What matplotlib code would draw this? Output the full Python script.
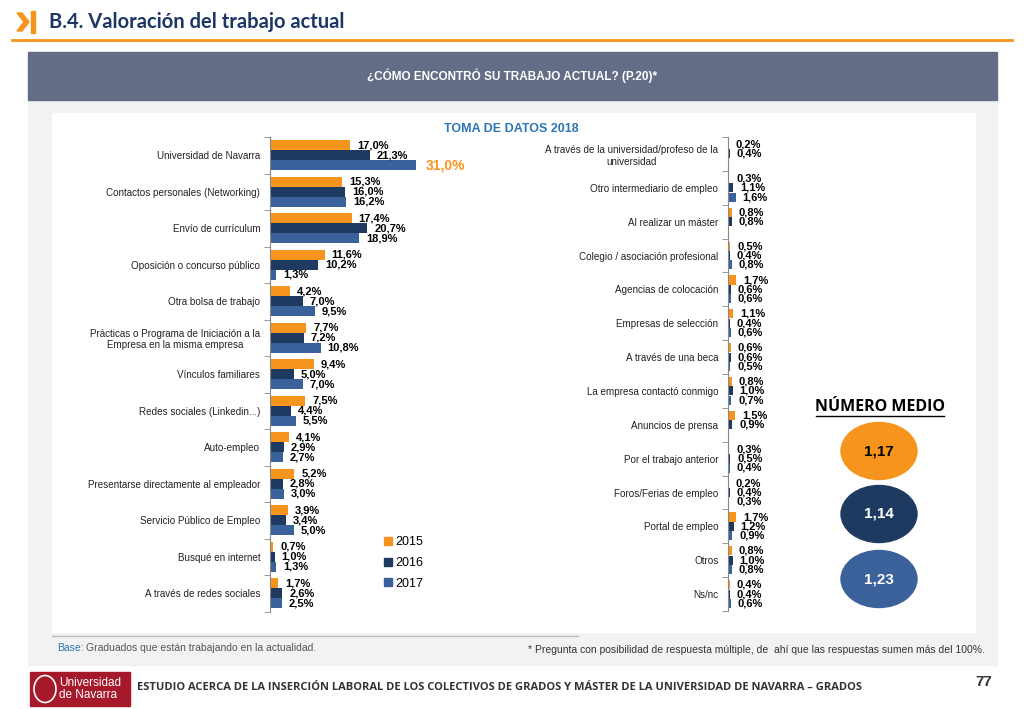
import numpy as np
import matplotlib
matplotlib.use("Agg")
import matplotlib.pyplot as plt
from matplotlib.patches import Rectangle, Ellipse, Polygon
from matplotlib.lines import Line2D

plt.rcParams['font.family'] = ['Liberation Sans', 'DejaVu Sans']

# ---- data ----
left_cats = ["Universidad de Navarra", "Contactos personales (Networking)",
             "Envío de currículum", "Oposición o concurso público",
             "Otra bolsa de trabajo",
             "Prácticas o Programa de Iniciación a la\nEmpresa en la misma empresa",
             "Vínculos familiares", "Redes sociales (Linkedin...)", "Auto-empleo",
             "Presentarse directamente al empleador", "Servicio Público de Empleo",
             "Busqué en internet", "A través de redes sociales"]
left_2015 = [17.0, 15.3, 17.4, 11.6, 4.2, 7.7, 9.4, 7.5, 4.1, 5.2, 3.9, 0.7, 1.7]
left_2016 = [21.3, 16.0, 20.7, 10.2, 7.0, 7.2, 5.0, 4.4, 2.9, 2.8, 3.4, 1.0, 2.6]
left_2017 = [31.0, 16.2, 18.9, 1.3, 9.5, 10.8, 7.0, 5.5, 2.7, 3.0, 5.0, 1.3, 2.5]

right_cats = ["A través de la universidad/profeso de la\nuniversidad",
              "Otro intermediario de empleo", "Al realizar un máster",
              "Colegio / asociación profesional", "Agencias de colocación",
              "Empresas de selección", "A través de una beca",
              "La empresa contactó conmigo", "Anuncios de prensa",
              "Por el trabajo anterior", "Foros/Ferias de empleo",
              "Portal de empleo", "Otros", "Ns/nc"]
right_2015 = [0.2, 0.3, 0.8, 0.5, 1.7, 1.1, 0.6, 0.8, 1.5, 0.3, 0.2, 1.7, 0.8, 0.4]
right_2016 = [0.4, 1.1, 0.8, 0.4, 0.6, 0.4, 0.6, 1.0, 0.9, 0.5, 0.4, 1.2, 1.0, 0.4]
right_2017 = [np.nan, 1.6, np.nan, 0.8, 0.6, 0.6, 0.5, 0.7, np.nan, 0.4, 0.3, 0.9, 0.8, 0.6]

years = ["2015", "2016", "2017"]
means = ["1,17", "1,14", "1,23"]

c15 = "#F7941D"
c16 = "#1F3A60"
c17 = "#3A6199"
colors = [c15, c16, c17]
navy = "#1C3764"

W, H = 1024, 709
fig = plt.figure(figsize=(W / 100, H / 100), dpi=100)


def fx(x):
    return x / W


def fy(y):
    return 1 - y / H


def add_rect(x0, y0, x1, y1, color, z=-2):
    fig.patches.append(Rectangle((fx(x0), fy(y1)), fx(x1 - x0), (y1 - y0) / H,
                                 transform=fig.transFigure, color=color, zorder=z))


# ---- background panels ----
add_rect(28, 100, 997, 665, "#F2F2F2", -3)
add_rect(52, 113, 975, 632, "white", -2)
add_rect(28, 52, 997, 100, "#636E86", -2)
fig.text(fx(512), fy(76), "¿CÓMO ENCONTRÓ SU TRABAJO ACTUAL? (P.20)*", color="white",
         fontsize=8.5, fontweight="bold", ha="center", va="center")

# header
fig.lines.append(Line2D([fx(12), fx(1012)], [fy(40), fy(40)], transform=fig.transFigure,
                        color=c15, lw=2))
fig.patches.append(Polygon([(fx(17), fy(13)), (fx(22), fy(13)), (fx(29), fy(22)),
                            (fx(22), fy(31)), (fx(17), fy(31)), (fx(24), fy(22))],
                           closed=True, transform=fig.transFigure, color=c15))
fig.patches.append(Rectangle((fx(31), fy(33)), fx(3.5), 22 / H,
                             transform=fig.transFigure, color=c15))
fig.text(fx(49), fy(22), "B.4. Valoración del trabajo actual", color=navy,
         fontsize=14.5, fontweight="bold", ha="left", va="center", family="Lato")

fig.text(fx(511), fy(129), "TOMA DE DATOS 2018", color="#2E75B6", fontsize=9,
         fontweight="bold", ha="center", va="center")

SCALE = 4.7  # px per percentage point
bar_h = 0.27


def draw_chart(ax, cats, vals, width_px):
    n = len(cats)
    y = np.arange(n)
    for k, v in enumerate(vals):
        v = np.array(v, dtype=float)
        pos = y + (k - 1) * 0.275
        ax.barh(pos, np.nan_to_num(v), height=bar_h, color=colors[k], zorder=2)
        for p, val in zip(pos, v):
            if np.isnan(val):
                continue
            ax.annotate(f"{val:.1f}".replace(".", ",") + "%", (val, p),
                        xytext=(5, 0), textcoords="offset points",
                        ha="left", va="center", fontsize=8, fontweight="bold",
                        color="black")
    ax.set_ylim(n - 0.5, -0.5)
    ax.set_xlim(0, width_px / SCALE)
    ax.set_yticks(y)
    ax.set_yticklabels(cats, fontsize=7.1, color="#222222", multialignment="center")
    ax.tick_params(axis="y", which="major", length=0, pad=7)
    ax.set_yticks(np.arange(n + 1) - 0.5, minor=True)
    ax.tick_params(axis="y", which="minor", length=4, color="#888888")
    ax.set_xticks([])
    for s in ["top", "right", "bottom"]:
        ax.spines[s].set_visible(False)
    ax.spines["left"].set_color("#888888")
    ax.set_facecolor("none")


axL = fig.add_axes([fx(270), fy(611.5), fx(240), (611.5 - 137) / H])
draw_chart(axL, left_cats, [left_2015, left_2016, left_2017], 240)
# highlight 31,0 label
for t in axL.texts:
    if t.get_text() == "31,0%":
        t.set_color(c15)
        t.set_fontsize(10)
        t.xyann = (7, 0)

axR = fig.add_axes([fx(728), fy(611), fx(60), (611 - 137) / H])
draw_chart(axR, right_cats, [right_2015, right_2016, right_2017], 60)

# legend
handles = [Rectangle((0, 0), 1, 1, color=c) for c in colors]
fig.legend(handles, years, loc="upper left", bbox_to_anchor=(fx(373), fy(525)),
           frameon=False, fontsize=9, handlelength=0.6, handleheight=0.6,
           labelspacing=0.7, handletextpad=0.3)

# mean number
fig.text(fx(880), fy(407), "NÚMERO MEDIO", fontsize=11.5, fontweight="bold",
         ha="center", va="center", color="black", family="Open Sans")
fig.lines.append(Line2D([fx(816), fx(944)], [fy(416), fy(416)], transform=fig.transFigure,
                        color="black", lw=1))
for (cy, col, txtcol, m) in zip([451, 514, 579], colors, ["black", "white", "white"], means):
    fig.patches.append(Ellipse((fx(879), fy(cy)), fx(76), 57 / H,
                               transform=fig.transFigure, color=col))
    fig.text(fx(879), fy(cy), m, fontsize=11, fontweight="bold", color=txtcol,
             ha="center", va="center")

# footnotes
fig.lines.append(Line2D([fx(52), fx(578)], [fy(636), fy(636)], transform=fig.transFigure,
                        color="#BBBBBB", lw=1))
fig.text(fx(57), fy(648), "Base:", color="#2E75B6", fontsize=7.5, ha="left", va="center")
fig.text(fx(86), fy(648), "Graduados que están trabajando en la actualidad.", color="#555555",
         fontsize=7.5, ha="left", va="center")
fig.text(fx(985), fy(650), "* Pregunta con posibilidad de respuesta múltiple, de  ahí que las "
         "respuestas sumen más del 100%.", color="#333333", fontsize=7.5, ha="right",
         va="center")

# footer
add_rect(30, 672, 130, 706, "#A5192B", 1)
fig.patches.append(Ellipse((fx(45), fy(689)), fx(22), 27 / H, transform=fig.transFigure,
                           facecolor="#A5192B", edgecolor="white", lw=1.2, zorder=2))
fig.text(fx(59), fy(689), "Universidad\nde Navarra", color="white", fontsize=8.5,
         ha="left", va="center", linespacing=0.9)
fig.text(fx(137), fy(688), "ESTUDIO ACERCA DE LA INSERCIÓN LABORAL DE LOS COLECTIVOS DE "
         "GRADOS Y MÁSTER DE LA UNIVERSIDAD DE NAVARRA – GRADOS", color="#333333",
         fontsize=8.0, fontweight="bold", ha="left", va="center", family="Open Sans")
fig.text(fx(992), fy(682), "77", color="#333333", fontsize=11, fontweight="bold",
         ha="right", va="center")

fig.savefig("out.png", dpi=100)
